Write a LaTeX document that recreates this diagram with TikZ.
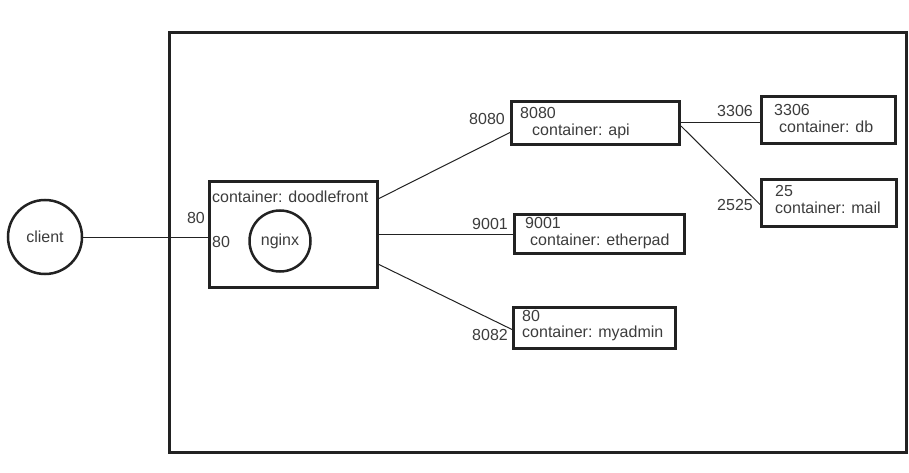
\documentclass[tikz,border=0pt]{standalone}
\usepackage{fontspec}
\setmainfont{Liberation Sans}
\usepackage{xcolor}
\usetikzlibrary{positioning, calc}
\definecolor{dkline}{RGB}{34,34,34}
\definecolor{dktext}{RGB}{60,60,60}

\begin{document}
\begin{tikzpicture}[x=1pt, y=-1pt,
    box/.style={rectangle, draw=dkline, line width=3pt, inner sep=0pt, anchor=north west},
    svc/.style={circle, draw=dkline, line width=2.5pt, inner sep=0pt, text=dktext,
        font=\fontsize{16}{17}\selectfont},
    txt/.style={inner sep=0pt, text=dktext, text height=11pt, text depth=0pt,
        font=\fontsize{16}{17}\selectfont, anchor=west},
    port/.style={txt, anchor=east},
    link/.style={draw=dkline, line width=1pt}
]
\useasboundingbox (0,0) rectangle (909,473);

% host machine
\node[box, minimum width=737pt, minimum height=420pt] (host) at (168,31) {};

% client
\node[svc, minimum size=74pt] (client) at (45,237) {client};

% front container
\node[box, minimum width=168pt, minimum height=106pt] (front) at (208,180) {};
\node[txt] (fronttitle) at ([xshift=4,yshift=-17]front.north west) {container: doodlefront};
\node[txt] (frontin)    at ([xshift=4,yshift=-7]front.west) {80};
\node[port] (frontout)  at ([xshift=-3,yshift=17]front.west) {80};
\node[svc, minimum size=61pt] (nginx) at (280,241) {nginx};

% api container
\node[box, minimum width=168pt, minimum height=43pt] (api) at (510,100) {};
\node[txt] (apiin)   at ([xshift=10,yshift=-13]api.north west) {8080};
\node[txt] (apiname) at ([xshift=22,yshift=-30]api.north west) {container: api};
\node[port] (apiout) at ([xshift=-5,yshift=3.5]api.west) {8080};

% db container
\node[box, minimum width=134pt, minimum height=47pt] (db) at (760,95) {};
\node[txt] (dbin)   at ([xshift=14,yshift=-15]db.north west) {3306};
\node[txt] (dbname) at ([xshift=19,yshift=-32]db.north west) {container: db};
\node[port] (dbout) at ([xshift=-7,yshift=8.5]db.west) {3306};

% mail container
\node[box, minimum width=135pt, minimum height=47pt] (mail) at (760,178) {};
\node[txt] (mailin)   at ([xshift=15,yshift=-13]mail.north west) {25};
\node[txt] (mailname) at ([xshift=15,yshift=-30]mail.north west) {container: mail};
\node[port] (mailout) at ([xshift=-7,yshift=-1.5]mail.west) {2525};

% etherpad container
\node[box, minimum width=170pt, minimum height=39pt] (pad) at (513,213) {};
\node[txt] (padin)   at ([xshift=12,yshift=-10]pad.north west) {9001};
\node[txt] (padname) at ([xshift=17,yshift=-27]pad.north west) {container: etherpad};
\node[port] (padout) at ([xshift=-5,yshift=10.5]pad.west) {9001};

% myadmin container
\node[box, minimum width=162pt, minimum height=41pt] (admin) at (512,306) {};
\node[txt] (adminin)   at ([xshift=10,yshift=-10]admin.north west) {80};
\node[txt] (adminname) at ([xshift=10,yshift=-26]admin.north west) {container: myadmin};
\node[port] (adminout) at ([xshift=-4,yshift=-6.5]admin.west) {8082};

\draw[link] (client.east) -- (client.east -| front.west);
\draw[link] ([yshift=36]front.east) -- ([yshift=-9.5]api.west);
\draw[link] (front.east) -- (front.east -| pad.west);
\draw[link] ([yshift=-30]front.east) -- ([yshift=-1.5]admin.west);
\draw[link] (api.east) -- (api.east -| db.west);
\draw[link] ([yshift=-3]api.east) -- ([yshift=-1.5]mail.west);
\end{tikzpicture}
\end{document}
